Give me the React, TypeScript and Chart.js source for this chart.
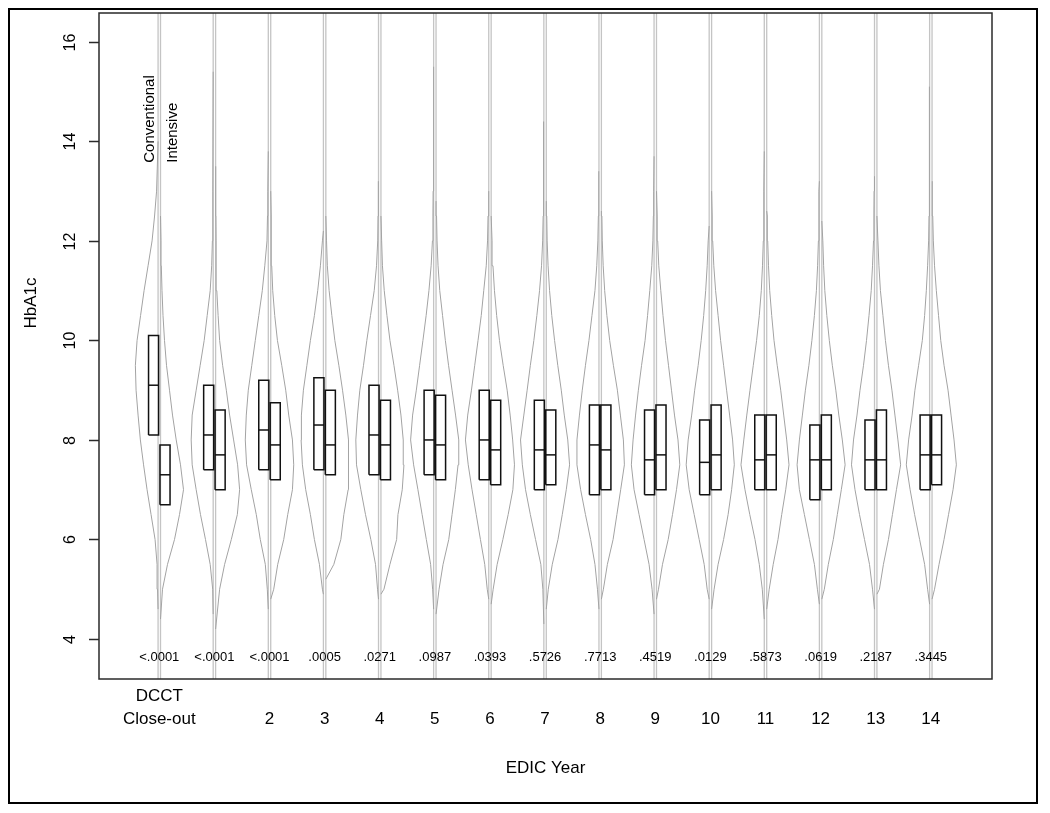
import React, { useEffect, useRef } from 'react';
import { Chart, registerables } from 'chart.js';

Chart.register(...registerables);

// ---------- data ----------
const groupLabels: string[][] = [
  ['DCCT', 'Close-out'], [], ['2'], ['3'], ['4'], ['5'], ['6'], ['7'],
  ['8'], ['9'], ['10'], ['11'], ['12'], ['13'], ['14'],
];
const pValues = [
  '<.0001', '<.0001', '<.0001', '.0005', '.0271', '.0987', '.0393', '.5726',
  '.7713', '.4519', '.0129', '.5873', '.0619', '.2187', '.3445',
];
const yTicks = [4, 6, 8, 10, 12, 14, 16];

// HbA1c levels at which the histogram widths are read
const levels = [5, 5.5, 6, 6.5, 7, 7.5, 8, 8.5, 9, 9.5, 10, 10.5, 11, 11.5, 12, 12.5, 13];

// relative frequency (half-width) of Conventional group at each level
const convDensity: number[][] = [
  [0.5, 1, 3, 7, 11, 14.5, 17.7, 20, 22, 22.7, 21, 17.5, 14, 10, 6, 3.5, 1.5],
  [0.5, 3, 7.7, 12.7, 17, 21, 22, 21, 17, 13, 9, 6, 3, 1.5, 0.8, 0.5, 0.3],
  [1, 3, 8, 12, 17, 21.7, 23, 22, 20, 16.5, 13, 9.5, 6, 3.5, 1.3, 0.8, 0.5],
  [1, 4, 9, 13, 17.7, 21, 22.3, 22, 20, 16.5, 13, 9, 5.7, 3, 1, 0.6, 0.4],
  [1, 3, 7.7, 13, 17.7, 22, 22.7, 21, 18.7, 15, 11.7, 8, 4.3, 2, 0.8, 0.5, 0.3],
  [1, 3, 7.3, 11.5, 15.7, 20, 23, 21, 17.3, 14, 10.7, 7.5, 4.7, 2.5, 1.2, 0.7, 0.5],
  [1.5, 4, 8.3, 12.5, 16.7, 20.5, 23.3, 21, 17.3, 14, 10.7, 7.5, 5, 2.5, 1.2, 0.7, 0.4],
  [1, 3, 8.3, 13.5, 18.3, 21.5, 23.3, 20, 16.7, 13.5, 10, 7, 4.3, 2.3, 1.2, 0.7, 0.5],
  [1.5, 4, 8.3, 13.5, 18.3, 22, 22, 19.5, 16.7, 13.5, 10, 7, 4, 2.2, 1.1, 0.6, 0.4],
  [2, 5, 10, 15, 20, 22.7, 21, 18.5, 15.7, 12.5, 9, 6.5, 4.3, 2.3, 1.2, 0.7, 0.4],
  [2, 5, 10, 15, 20, 23, 21, 17.5, 14.5, 11, 8, 5.5, 3.5, 2, 1, 0.6, 0.4],
  [2, 5, 9.3, 14.5, 19.3, 23.3, 20.5, 17.5, 14.3, 11, 7.7, 5, 3, 1.8, 1, 0.6, 0.4],
  [2, 5, 10, 15, 20, 22.3, 20, 17, 14, 10.5, 7.5, 5, 3, 1.8, 1, 0.6, 0.4],
  [2, 5, 10, 15, 19.5, 23, 21, 17.5, 14.5, 11, 8, 5.5, 3.3, 2, 1, 0.6, 0.4],
  [2, 5, 10, 15, 19.5, 23.3, 21, 17.5, 14.7, 11, 7.3, 5, 3.3, 2, 1, 0.6, 0.4],
];
// relative frequency (half-width) of Intensive group at each level
const intDensity: number[][] = [
  [2, 7, 14, 19, 23, 20, 15.7, 12, 9, 6, 4, 2.5, 1.5, 0.8, 0.5, 0.3, 0.2],
  [4, 9, 15.7, 21.7, 24, 22, 18, 14, 10.7, 7, 4, 2.5, 1.2, 0.6, 0.4, 0.3, 0.2],
  [3, 7, 13, 17, 21.7, 23, 21.7, 18, 15, 11, 6.7, 4, 2, 1, 0.6, 0.4, 0.2],
  [3, 8, 15, 18, 22.3, 23, 22.3, 20, 16.7, 13, 9, 6, 3.3, 1.5, 0.7, 0.4, 0.2],
  [3, 9, 15.7, 17, 21.3, 23, 22.3, 20, 16.7, 13, 9, 6, 3.3, 1.5, 0.7, 0.4, 0.2],
  [3, 7, 12.7, 16, 19.3, 22, 22.7, 19.5, 16, 12.5, 9.3, 6.5, 3.7, 2, 1, 0.5, 0.3],
  [2, 6, 11.7, 17, 21.7, 23.3, 21.5, 19, 16, 12, 8.3, 5.5, 3.3, 1.8, 0.9, 0.5, 0.3],
  [2, 6, 11.7, 16, 20, 23.3, 21.5, 18, 15, 11.5, 8.3, 5.5, 3.3, 1.8, 0.9, 0.5, 0.3],
  [2, 6, 11.7, 15.5, 19.3, 23, 22, 19, 16, 12, 8.3, 5.5, 3.3, 1.8, 0.9, 0.5, 0.3],
  [2, 6, 11.7, 16, 20, 23.3, 21.5, 18, 15, 12, 9, 6.5, 4.3, 2.3, 1.2, 0.7, 0.4],
  [2.5, 6.5, 12, 16.5, 20, 22.7, 21, 18, 15, 12, 9, 6.5, 4, 2.2, 1.1, 0.6, 0.4],
  [2.5, 6.5, 11.3, 15, 19, 22.3, 20, 17, 14, 10.5, 7.3, 5, 3, 1.8, 1, 0.6, 0.4],
  [2.5, 6.5, 11.5, 15.5, 19.5, 23.3, 20.5, 17, 14, 10.5, 7.5, 5, 3, 1.8, 1, 0.6, 0.4],
  [2.5, 6.5, 11.5, 15.5, 19.5, 23.7, 21, 18, 15, 11.5, 8.5, 6, 3.5, 2, 1, 0.6, 0.4],
  [2.5, 7, 12, 16.5, 21, 24.3, 22, 19, 16, 12, 8.7, 6.5, 4.3, 2.5, 1.3, 0.7, 0.4],
];
const convMin = [4.6, 4.5, 4.6, 4.9, 4.8, 4.6, 4.8, 4.3, 4.6, 4.5, 4.8, 4.4, 4.7, 4.6, 4.7];
const convMax = [14.0, 15.4, 13.8, 12.2, 13.2, 15.5, 13.0, 14.4, 13.4, 13.7, 12.3, 13.8, 13.2, 13.3, 15.1];
const intMin = [4.4, 4.2, 4.8, 5.2, 4.9, 4.5, 4.7, 4.6, 4.8, 4.8, 4.6, 4.6, 4.8, 4.9, 4.8];
const intMax = [12.5, 13.5, 13.0, 12.5, 12.5, 12.8, 12.5, 12.8, 12.6, 13.0, 13.0, 12.6, 12.4, 12.5, 13.2];

const convQ1 = [8.1, 7.4, 7.4, 7.4, 7.3, 7.3, 7.2, 7.0, 6.9, 6.9, 6.9, 7.0, 6.8, 7.0, 7.0];
const convMed = [9.1, 8.1, 8.2, 8.3, 8.1, 8.0, 8.0, 7.8, 7.9, 7.6, 7.55, 7.6, 7.6, 7.6, 7.7];
const convQ3 = [10.1, 9.1, 9.2, 9.25, 9.1, 9.0, 9.0, 8.8, 8.7, 8.6, 8.4, 8.5, 8.3, 8.4, 8.5];
const intQ1 = [6.7, 7.0, 7.2, 7.3, 7.2, 7.2, 7.1, 7.1, 7.0, 7.0, 7.0, 7.0, 7.0, 7.0, 7.1];
const intMed = [7.3, 7.7, 7.9, 7.9, 7.9, 7.9, 7.8, 7.7, 7.8, 7.7, 7.7, 7.7, 7.6, 7.6, 7.7];
const intQ3 = [7.9, 8.6, 8.75, 9.0, 8.8, 8.9, 8.8, 8.6, 8.7, 8.7, 8.7, 8.5, 8.5, 8.6, 8.5];

// ---------- layout / style constants ----------
const X_MIN = -1.094;
const X_MAX = 15.11;
const Y_MIN = 3.196;
const Y_MAX = 16.58;
const WIDTH_SCALE = 1 / 55.1; // x-units per density unit
const BASE_OFFSET = 0.022;
const BOX_INNER = 0.012;
const BOX_OUTER = 0.195;
const PVAL_Y = 3.638;
const NOTE_Y = 13.57;
const FONT = '"Liberation Sans", Arial, sans-serif';
const VIOLIN_COLOR = '#a3a3a3';
const CENTER_COLOR = '#c4c4c4';
const BOX_COLOR = '#111111';

function lineDs(data: { x: number; y: number }[], color: string, width: number, order: number) {
  return {
    type: 'scatter' as const,
    data,
    showLine: true,
    borderColor: color,
    borderWidth: width,
    pointRadius: 0,
    pointHoverRadius: 0,
    fill: false,
    tension: 0,
    order,
  };
}

function buildDatasets() {
  const ds: any[] = [];
  groupLabels.forEach((_, i) => {
    // centre lines (histogram baselines)
    for (const s of [-1, 1]) {
      ds.push(lineDs([{ x: i + s * BASE_OFFSET, y: Y_MIN }, { x: i + s * BASE_OFFSET, y: Y_MAX }], CENTER_COLOR, 1.3, 3));
    }
    // half-violins
    const sides = [
      { s: -1, dens: convDensity[i], mn: convMin[i], mx: convMax[i] },
      { s: 1, dens: intDensity[i], mn: intMin[i], mx: intMax[i] },
    ];
    for (const { s, dens, mn, mx } of sides) {
      const base = i + s * BASE_OFFSET;
      const pts: { x: number; y: number }[] = [{ x: base, y: mn }];
      levels.forEach((lv, k) => {
        if (lv > mn && lv < mx) pts.push({ x: base + s * dens[k] * WIDTH_SCALE, y: lv });
      });
      pts.push({ x: base, y: mx });
      ds.push(lineDs(pts, VIOLIN_COLOR, 1, 2));
    }
    // boxes
    const boxes = [
      { x0: i - BOX_OUTER, x1: i - BOX_INNER, q1: convQ1[i], m: convMed[i], q3: convQ3[i] },
      { x0: i + BOX_INNER, x1: i + BOX_OUTER, q1: intQ1[i], m: intMed[i], q3: intQ3[i] },
    ];
    for (const b of boxes) {
      ds.push(lineDs([
        { x: b.x0, y: b.q1 }, { x: b.x0, y: b.q3 }, { x: b.x1, y: b.q3 },
        { x: b.x1, y: b.q1 }, { x: b.x0, y: b.q1 },
      ], BOX_COLOR, 1.5, 0));
      ds.push(lineDs([{ x: b.x0, y: b.m }, { x: b.x1, y: b.m }], BOX_COLOR, 1.5, 0));
    }
  });
  return ds;
}

const decorPlugin = {
  id: 'decor',
  afterDraw(chart: any) {
    const { ctx, chartArea: a } = chart;
    const xs = chart.scales.x;
    const ys = chart.scales.y;
    ctx.save();
    // outer frame
    ctx.strokeStyle = '#000';
    ctx.lineWidth = 2;
    ctx.strokeRect(9, 9, 1028, 794);
    // plot box
    ctx.strokeStyle = '#2a2a2a';
    ctx.lineWidth = 1.5;
    ctx.strokeRect(a.left, a.top, a.right - a.left, a.bottom - a.top);
    // y ticks + labels
    ctx.fillStyle = '#000';
    ctx.font = `16px ${FONT}`;
    for (const t of yTicks) {
      const py = Math.round(ys.getPixelForValue(t)) + 0.5;
      ctx.beginPath();
      ctx.moveTo(a.left - 10, py);
      ctx.lineTo(a.left, py);
      ctx.stroke();
      ctx.save();
      ctx.translate(a.left - 28, py);
      ctx.rotate(-Math.PI / 2);
      ctx.textAlign = 'center';
      ctx.textBaseline = 'middle';
      ctx.fillText(String(t), 0, 0);
      ctx.restore();
    }
    // y title
    ctx.save();
    ctx.font = `17px ${FONT}`;
    ctx.translate(31, 303);
    ctx.rotate(-Math.PI / 2);
    ctx.textAlign = 'center';
    ctx.textBaseline = 'middle';
    ctx.fillText('HbA1c', 0, 0);
    ctx.restore();
    // x labels
    ctx.font = `17px ${FONT}`;
    ctx.textAlign = 'center';
    ctx.textBaseline = 'middle';
    groupLabels.forEach((lines, i) => {
      const px = xs.getPixelForValue(i);
      lines.forEach((ln, k) => {
        const off = lines.length - 1 - k;
        ctx.fillText(ln, px, a.bottom + 40 - off * 23);
      });
    });
    ctx.fillText('EDIC Year', (a.left + a.right) / 2, a.bottom + 89);
    // p-values
    ctx.font = `13px ${FONT}`;
    pValues.forEach((p, i) => {
      ctx.fillText(p, xs.getPixelForValue(i), ys.getPixelForValue(PVAL_Y));
    });
    // group notes
    ctx.font = `15px ${FONT}`;
    const notes = [
      { text: 'Conventional', x: -0.17 },
      { text: 'Intensive', x: 0.25 },
    ];
    for (const n of notes) {
      ctx.save();
      ctx.translate(xs.getPixelForValue(n.x), ys.getPixelForValue(NOTE_Y));
      ctx.rotate(-Math.PI / 2);
      ctx.textAlign = 'left';
      ctx.textBaseline = 'middle';
      ctx.fillText(n.text, 0, 0);
      ctx.restore();
    }
    ctx.restore();
  },
};

export default function App() {
  const ref = useRef<HTMLCanvasElement | null>(null);
  useEffect(() => {
    if (!ref.current) return;
    const chart = new Chart(ref.current, {
      type: 'scatter',
      data: { datasets: buildDatasets() },
      options: {
        animation: false,
        responsive: false,
        events: [],
        layout: { padding: { left: 99, top: 13, right: 58, bottom: 134 } },
        plugins: { legend: { display: false }, tooltip: { enabled: false } },
        scales: {
          x: { type: 'linear', min: X_MIN, max: X_MAX, display: false },
          y: { type: 'linear', min: Y_MIN, max: Y_MAX, display: false },
        },
      },
      plugins: [decorPlugin],
    } as any);
    return () => chart.destroy();
  }, []);
  return (
    <div style={{ position: 'absolute', left: 0, top: 0, width: 1050, height: 813, background: '#fff' }}>
      <canvas ref={ref} width={1050} height={813} style={{ display: 'block' }} />
    </div>
  );
}
